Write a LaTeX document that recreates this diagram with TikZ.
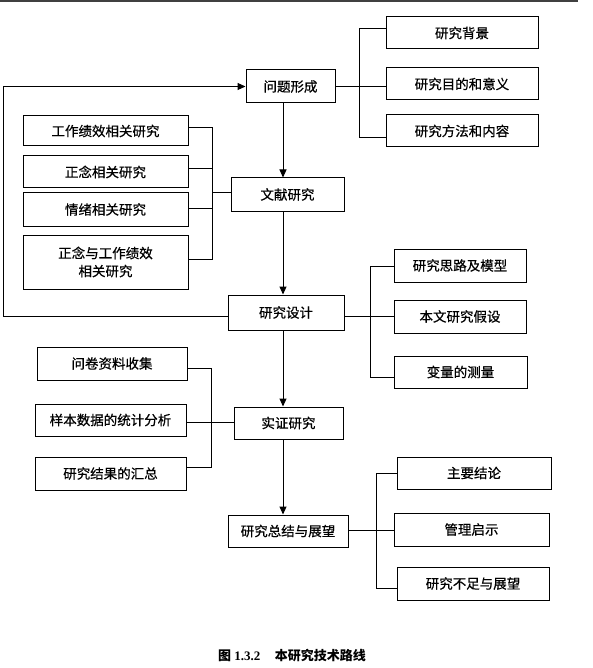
\documentclass[tikz,border=0pt]{standalone}
\usepackage{fontspec}
\setmainfont{Liberation Serif}
\newfontfamily\cjk[FakeBold=0.6]{Noto Sans CJK SC}
\newfontfamily\cjkcap{Noto Sans CJK SC}
\usetikzlibrary{arrows.meta}
\tikzset{
  box/.style={draw, line width=1pt, inner sep=0pt, align=center,
    font=\cjk\fontsize{13.5}{18}\selectfont},
  ln/.style={line width=1pt},
  arr/.style={line width=1pt, -{Triangle[length=8pt,width=7pt]}},
}
\begin{document}
\begin{tikzpicture}[x=1pt,y=-1pt]
\useasboundingbox (0,0) rectangle (592,668);
\draw[black!75, line width=1.2pt] (0,1) -- (578,1);
% main column
\node[box, minimum width=89pt, minimum height=33pt] (t0) at (290.5,86.5) {问题形成};
\node[box, minimum width=113pt, minimum height=33pt] (t1) at (287.5,194.5) {文献研究};
\node[box, minimum width=116pt, minimum height=35pt] (t2) at (286,312.5) {研究设计};
\node[box, minimum width=109pt, minimum height=32pt] (t3) at (288.5,423) {实证研究};
\node[box, minimum width=120pt, minimum height=32pt] (t4) at (288,531) {研究总结与展望};
% right group 1
\node[box, minimum width=152pt, minimum height=32pt] (r1) at (462,33) {研究背景};
\node[box, minimum width=152pt, minimum height=32pt] (r2) at (462,84) {研究目的和意义};
\node[box, minimum width=152pt, minimum height=32pt] (r3) at (462,131) {研究方法和内容};
% left group 1
\node[box, minimum width=165pt, minimum height=30pt] (l1) at (105.5,131) {工作绩效相关研究};
\node[box, minimum width=165pt, minimum height=32pt] (l2) at (105.5,172) {正念相关研究};
\node[box, minimum width=165pt, minimum height=33pt] (l3) at (105.5,209.5) {情绪相关研究};
\node[box, minimum width=165pt, minimum height=54pt] (l4) at (105.5,262) {正念与工作绩效\\相关研究};
% right group 2
\node[box, minimum width=132pt, minimum height=33pt] (m1) at (460,265.5) {研究思路及模型};
\node[box, minimum width=132pt, minimum height=33pt] (m2) at (460,316.5) {本文研究假设};
\node[box, minimum width=133pt, minimum height=32pt] (m3) at (460.5,372) {变量的测量};
% left group 2
\node[box, minimum width=150pt, minimum height=33pt] (e1) at (112,363.5) {问卷资料收集};
\node[box, minimum width=151pt, minimum height=32pt] (e2) at (110.5,420) {样本数据的统计分析};
\node[box, minimum width=151pt, minimum height=33pt] (e3) at (110.5,473.5) {研究结果的汇总};
% right group 3
\node[box, minimum width=154pt, minimum height=32pt] (s1) at (474,473) {主要结论};
\node[box, minimum width=155pt, minimum height=33pt] (s2) at (471.5,529.5) {管理启示};
\node[box, minimum width=152pt, minimum height=33pt] (s3) at (473,583.5) {研究不足与展望};
% caption
\node[font=\bfseries\fontsize{13}{16}\selectfont] (cap) at (292,656)
  {{\cjkcap 图} 1.3.2\hspace{1.1em}{\cjkcap 本研究技术路线}};
% helper coordinates
\coordinate (vx) at (283,0);
\coordinate (lx) at (3.5,0);
\coordinate (bx1) at (359,0);
\coordinate (bx2) at (212,0);
\coordinate (bx3) at (370,0);
\coordinate (bx4) at (211,0);
\coordinate (bx5) at (376,0);
% main arrows
\draw[arr] (t0.south -| vx) -- (t1.north -| vx);
\draw[arr] (t1.south -| vx) -- (t2.north -| vx);
\draw[arr] (t2.south -| vx) -- (t3.north -| vx);
\draw[arr] (t3.south -| vx) -- (t4.north -| vx);
% feedback loop
\draw[arr] ([yshift=-3.5pt]t2.west) -- ([yshift=-3.5pt]t2.west -| lx) |- (t0.west);
% group r
\draw[ln] (t0.east) -- (t0.east -| r2.west);
\draw[ln] ([yshift=4pt]r1.west) -- ([yshift=4pt]r1.west -| bx1) -- ([yshift=-7pt]r3.west -| bx1) -- ([yshift=-7pt]r3.west);
% group l
\draw[ln] ([yshift=3pt]l1.east) -- ([yshift=3pt]l1.east -| bx2) -- ([yshift=3pt]l4.east -| bx2) -- ([yshift=3pt]l4.east);
\draw[ln] ([yshift=3pt]l2.east) -- ([yshift=3pt]l2.east -| bx2);
\draw[ln] ([yshift=1.5pt]l3.east) -- ([yshift=1.5pt]l3.east -| bx2);
\draw[ln] ([yshift=1.5pt]t1.west) -- ([yshift=1.5pt]t1.west -| bx2);
% group m
\draw[ln] ([yshift=-3.5pt]t2.east) -- ([yshift=-3.5pt]t2.east -| m2.west);
\draw[ln] ([yshift=-0.5pt]m1.west) -- ([yshift=-0.5pt]m1.west -| bx3) -- ([yshift=-5pt]m3.west -| bx3) -- ([yshift=-5pt]m3.west);
% group e
\draw[ln] ([yshift=-4.5pt]e1.east) -- ([yshift=-4.5pt]e1.east -| bx4) -- ([yshift=6.5pt]e3.east -| bx4) -- ([yshift=6.5pt]e3.east);
\draw[ln] ([yshift=-2pt]e2.east) -- ([yshift=-2pt]e2.east -| t3.west);
% group s
\draw[ln] ([yshift=1pt]t4.east) -- ([yshift=1pt]t4.east -| s2.west);
\draw[ln] (s1.west) -- (s1.west -| bx5) -- ([yshift=-4.5pt]s3.west -| bx5) -- ([yshift=-4.5pt]s3.west);
\end{tikzpicture}
\end{document}
